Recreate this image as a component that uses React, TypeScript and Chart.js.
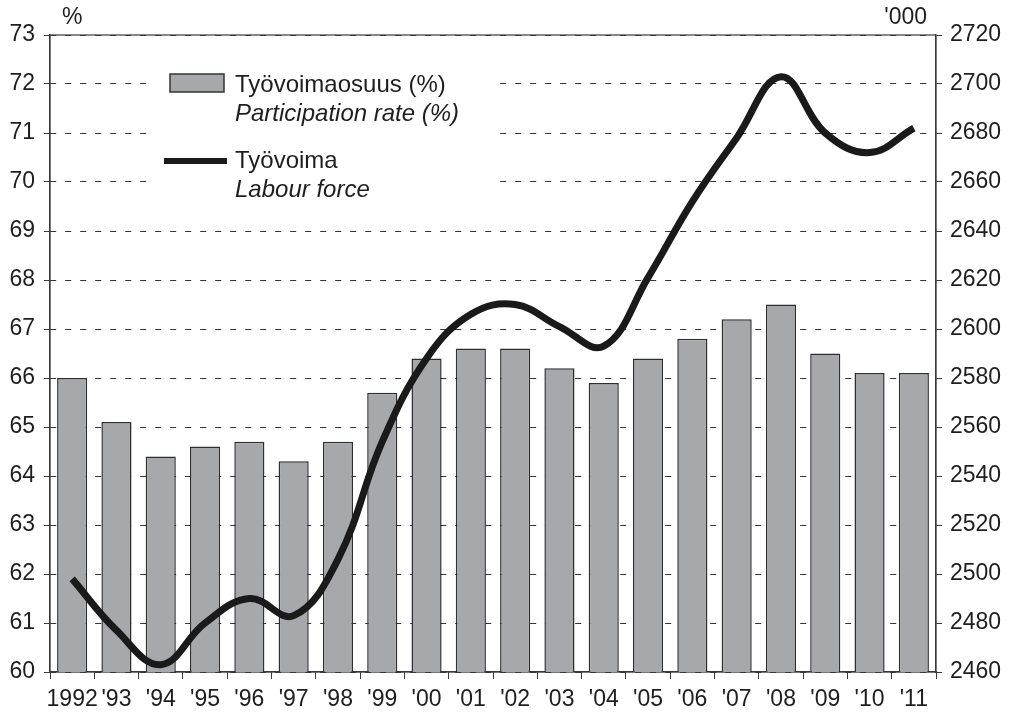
import React, { useEffect, useRef } from "react";
import { Chart, registerables } from "chart.js";

Chart.register(...registerables);

const categories = ["1992", "'93", "'94", "'95", "'96", "'97", "'98", "'99", "'00", "'01", "'02", "'03", "'04", "'05", "'06", "'07", "'08", "'09", "'10", "'11"];
const participationRate = [66.0, 65.1, 64.4, 64.6, 64.7, 64.3, 64.7, 65.7, 66.4, 66.6, 66.6, 66.2, 65.9, 66.4, 66.8, 67.2, 67.5, 66.5, 66.1, 66.1];
const labourForce = [2498, 2477, 2463, 2480, 2490, 2483, 2506, 2554, 2588, 2606, 2610, 2601, 2593, 2621, 2652, 2678, 2703, 2680, 2672, 2682];

const FONT = "'Liberation Sans', Arial, sans-serif";
const TEXT = "#1e1e1e";
const AXIS = "#3a3a3a";
const BAR_FILL = "#a7a8ac";

const decorPlugin = {
  id: "decor",
  beforeDatasetsDraw(chart: any) {
    const { ctx, chartArea } = chart;
    ctx.save();
    // white legend backdrop hiding gridlines
    ctx.fillStyle = "#ffffff";
    ctx.fillRect(150, 56, 345, 150);
    // legend: bar swatch
    ctx.fillStyle = BAR_FILL;
    ctx.fillRect(170, 74, 54, 18);
    ctx.strokeStyle = "#333";
    ctx.lineWidth = 1.5;
    ctx.strokeRect(170, 74, 54, 18);
    // legend: line swatch
    ctx.fillStyle = "#1a1a1a";
    ctx.fillRect(164, 158, 63, 6);
    ctx.fillStyle = TEXT;
    ctx.textAlign = "left";
    ctx.textBaseline = "alphabetic";
    ctx.font = `24px ${FONT}`;
    ctx.fillText("Työvoimaosuus (%)", 235, 92);
    ctx.fillText("Työvoima", 235, 168);
    ctx.font = `italic 24px ${FONT}`;
    ctx.fillText("Participation rate (%)", 235, 121);
    ctx.fillText("Labour force", 235, 197);
    // axis unit titles
    ctx.font = `23px ${FONT}`;
    ctx.fillText("%", 62, 24);
    ctx.textAlign = "right";
    ctx.fillText("'000", 927, 24);
    // frame
    ctx.strokeStyle = AXIS;
    ctx.lineWidth = 1.2;
    ctx.strokeRect(chartArea.left, chartArea.top, chartArea.right - chartArea.left, chartArea.bottom - chartArea.top);
    ctx.restore();
  },
};

export default function App() {
  const ref = useRef<HTMLCanvasElement | null>(null);
  useEffect(() => {
    document.body.style.margin = "0";
    const canvas = ref.current!;
    const chart = new Chart(canvas, {
      type: "bar",
      data: {
        labels: categories,
        datasets: [
          {
            type: "line",
            label: "Työvoima",
            data: labourForce,
            yAxisID: "y1",
            borderColor: "#1a1a1a",
            borderWidth: 7,
            pointRadius: 0,
            tension: 0.4,
            fill: false,
            order: 0,
          } as any,
          {
            type: "bar",
            label: "Työvoimaosuus (%)",
            data: participationRate,
            yAxisID: "y",
            backgroundColor: BAR_FILL,
            borderColor: "#2e2e2e",
            borderWidth: 1.5,
            barPercentage: 0.68,
            categoryPercentage: 1,
            order: 1,
          },
        ],
      },
      options: {
        responsive: false,
        animation: false,
        layout: { padding: { top: 35, left: 0, right: 0, bottom: 0 } },
        plugins: { legend: { display: false }, tooltip: { enabled: false } },
        scales: {
          x: {
            grid: { drawOnChartArea: false, drawTicks: true, tickLength: 7, color: AXIS, offset: true },
            border: { display: true, color: AXIS, width: 1.2 },
            ticks: { color: TEXT, font: { family: FONT, size: 23 }, padding: 7, maxRotation: 0, autoSkip: false },
            afterFit: (s: any) => { s.height = 40; },
          },
          y: {
            position: "left",
            min: 60,
            max: 73,
            ticks: { stepSize: 1, color: TEXT, font: { family: FONT, size: 23 }, padding: 9 },
            grid: { color: "#333", lineWidth: 1, tickLength: 6, tickColor: AXIS, drawOnChartArea: true },
            border: { display: true, color: AXIS, width: 1.2, dash: [6, 9] },
            afterFit: (s: any) => { s.width = 50; },
          },
          y1: {
            position: "right",
            min: 2460,
            max: 2720,
            ticks: {
              stepSize: 20,
              color: TEXT,
              font: { family: FONT, size: 23 },
              padding: 8,
              callback: (v: any) => String(v),
            },
            grid: { drawOnChartArea: false, tickLength: 6, color: AXIS },
            border: { display: true, color: AXIS, width: 1.2 },
            afterFit: (s: any) => { s.width = 74; },
          },
        },
      },
      plugins: [decorPlugin],
    });
    return () => chart.destroy();
  }, []);
  return (
    <div style={{ width: 1010, height: 712 }}>
      <canvas ref={ref} width={1010} height={712} />
    </div>
  );
}
